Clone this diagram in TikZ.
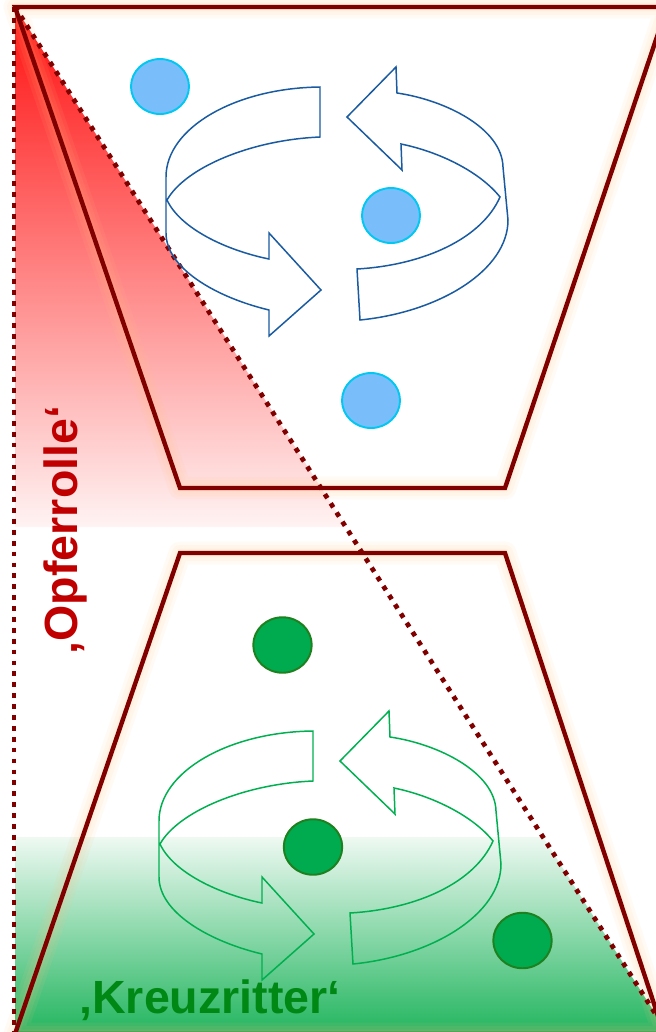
\documentclass[tikz,border=0pt]{standalone}
\usepackage{fontspec}
\usetikzlibrary{shapes.geometric}
\newfontfamily\labelfont{Liberation Sans}
\definecolor{framered}{RGB}{128,0,0}
\definecolor{glowor}{RGB}{255,195,130}
\definecolor{shadered}{RGB}{255,15,15}
\definecolor{shadegreen}{RGB}{36,182,96}
\definecolor{paleg}{RGB}{238,249,242}
\definecolor{dotblue}{RGB}{121,190,250}
\definecolor{dotcyan}{RGB}{0,200,240}
\definecolor{dotgreen}{RGB}{0,170,78}
\definecolor{dotgreenline}{RGB}{30,128,30}
\definecolor{arrowblue}{RGB}{25,90,160}
\definecolor{arrowgreen}{RGB}{0,176,80}
\definecolor{textred}{RGB}{192,0,0}
\definecolor{textgreen}{RGB}{0,136,20}
\tikzset{
  ringarrows/.pic={
    \draw (320,87) .. controls (235,88) and (166,128) .. (166,177) -- (166,233)
      .. controls (166,268) and (215,297) .. (269,310) -- (269,336) -- (321,290)
      -- (269,233) -- (269,259) .. controls (225,250) and (180,228) .. (167,200)
      .. controls (185,168) and (250,140) .. (320,137) -- cycle;
    \draw (347,117) -- (396,67) -- (397,93) .. controls (445,100) and (502,128) .. (503,167)
      -- (508,220) .. controls (508,270) and (440,312) .. (360,320) -- (357,269)
      .. controls (425,265) and (482,238) .. (500,197)
      .. controls (480,172) and (440,152) .. (401,144) -- (402,170) -- cycle;
  }
}
\begin{document}
\begin{tikzpicture}[x=0.02cm,y=-0.02cm,
    frame/.style={draw=framered,line width=2.5pt,line join=miter},
    glow/.style={draw=glowor,line width=#1,opacity=0.09,line join=round},
    dotline/.style={draw=framered,line width=2.7pt,dash pattern=on 2.7pt off 3.5pt},
    bluedot/.style={ellipse,fill=dotblue,draw=dotcyan,line width=1.1pt,
      minimum width=1.16cm,minimum height=1.1cm,inner sep=0pt},
    greendot/.style={ellipse,fill=dotgreen,draw=dotgreenline,line width=1.1pt,
      minimum width=1.17cm,minimum height=1.11cm,inner sep=0pt},
    ring/.style={line width=0.85pt,line join=miter}]
  \useasboundingbox (0,0) rectangle (656,1032);
  \clip (0,0) rectangle (656,1032);

  \shade[top color=shadered,bottom color=shadered!5] (15,7) -- (15,527) -- (346,527) -- cycle;
  \shade[top color=paleg,bottom color=shadegreen] (15,837) -- (15,1032) -- (667,1032) -- (543,837) -- cycle;

  % the two funnels
  \foreach \w in {13pt,9pt,5pt} {
    \draw[glow=\w] (15,7) -- (667,7) -- (505,488) -- (180,488) -- cycle;
    \draw[glow=\w] (180,553) -- (505,553) -- (664,1034) -- (15,1034) -- cycle;
  }
  \draw[frame] (15,7) -- (667,7) -- (505,488) -- (180,488) -- cycle;
  \draw[frame] (180,553) -- (505,553) -- (664,1034) -- (15,1034) -- cycle;

  \draw[dotline] (14,7) -- (14,1032);
  \draw[dotline] (15,7) -- (667,1032);

  \pic[ring,color=arrowblue] at (0,0) {ringarrows};
  \pic[ring,color=arrowgreen] at (-7,644) {ringarrows};

  \node[bluedot] (b1) at (160,86.5) {};
  \node[bluedot] (b2) at (391,215.5) {};
  \node[bluedot] (b3) at (371,400.5) {};
  \node[greendot] (g1) at (282.5,645) {};
  \node[greendot] (g2) at (313,847) {};
  \node[greendot] (g3) at (522.5,940.5) {};

  \node[rotate=90,anchor=base,inner sep=0pt,text=textred,font=\labelfont\bfseries\fontsize{26.5}{30}\selectfont]
    (victim) at (77,530) {‚Opferrolle‘};
  \node[anchor=base,inner sep=0pt,text=textgreen,font=\labelfont\bfseries\fontsize{26.5}{30}\selectfont]
    (crusader) at (210,1013) {‚Kreuzritter‘};
\end{tikzpicture}
\end{document}
